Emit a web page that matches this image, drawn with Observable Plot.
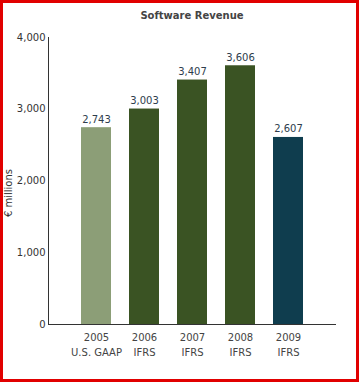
<!DOCTYPE html>
<html>
<head>
<meta charset="utf-8">
<script src="https://cdn.jsdelivr.net/npm/d3@7"></script>
<script src="https://cdn.jsdelivr.net/npm/@observablehq/plot@0.6"></script>
<style>
  html, body { margin: 0; padding: 0; background: #fff; }
  #wrap { position: relative; width: 359px; height: 382px; overflow: hidden; background: #fff; }
  #title { box-sizing: border-box; height: 26px; padding: 10px 23px 0 48px; line-height: 12px;
           text-align: center; font: bold 10px "DejaVu Sans", sans-serif; color: #444; }
  #border { position: absolute; left: 0; top: 0; width: 359px; height: 382px; box-sizing: border-box;
            border: 3px solid #e10000; pointer-events: none; }
  svg { display: block; }
</style>
</head>
<body>
<div id="wrap">
  <div id="title">Software Revenue</div>
  <div id="chart"></div>
  <div id="border"></div>
</div>
<script>
const years = ["2005", "2006", "2007", "2008", "2009"];
const standards = ["U.S. GAAP", "IFRS", "IFRS", "IFRS", "IFRS"];
const revenue = [2743, 3003, 3407, 3606, 2607];
const barColors = ["#8c9e77", "#3a5323", "#3a5323", "#3a5323", "#0f3d4e"];
const yTicks = [0, 1000, 2000, 3000, 4000];
const yLabel = "€ millions";

const data = years.map((y, i) => ({year: y, std: standards[i], value: revenue[i], color: barColors[i]}));
const labelOf = Object.fromEntries(years.map((y, i) => [y, y + "\n" + standards[i]]));

const plot = Plot.plot({
  width: 359,
  height: 356,
  marginTop: 11,
  marginBottom: 58,
  marginLeft: 48,
  marginRight: 23,
  style: {fontFamily: "DejaVu Sans, sans-serif", fontSize: "10px", background: "white"},
  x: {domain: years, paddingInner: 0.375, paddingOuter: 0.6875, label: null},
  y: {domain: [0, 4000], label: null},
  marks: [
    Plot.barY(data, {x: "year", y: "value", fill: "color"}),
    Plot.ruleY([0], {stroke: "#333", strokeWidth: 1}),
    Plot.frame({anchor: "left", stroke: "#333"}),
    Plot.axisY({ticks: yTicks, tickFormat: d3.format(","), tickSize: 0, tickPadding: 3, fill: "#333", label: null}),
    Plot.axisX({tickSize: 0, tickPadding: 6, tickFormat: d => labelOf[d], lineHeight: 1.5, fill: "#444", label: null}),
    Plot.text(data, {x: "year", y: "value", text: d => d3.format(",")(d.value), lineAnchor: "bottom", dy: -5, fill: "#2e3d4d", fontSize: 10}),
    Plot.text([yLabel], {frameAnchor: "left", textAnchor: "middle", dx: -40, dy: 12, rotate: -90, fill: "#333", fontSize: 10})
  ]
});
document.getElementById("chart").appendChild(plot);
</script>
</body>
</html>
